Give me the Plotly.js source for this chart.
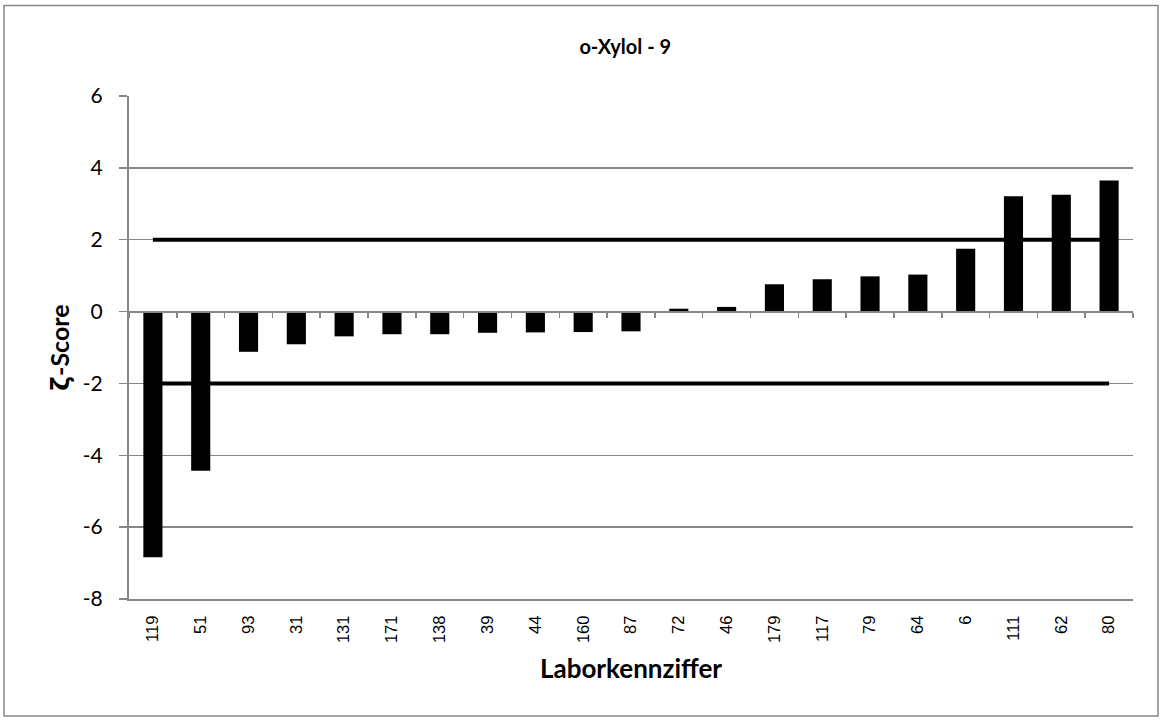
<!DOCTYPE html>
<html>
<head>
<meta charset="utf-8">
<script src="https://cdn.plot.ly/plotly-3.0.1.min.js"></script>
<style>html,body{margin:0;padding:0;background:#fff;}#chart{width:1160px;height:721px;}</style>
</head>
<body>
<div id="chart"></div>
<script>
const labs = ["119","51","93","31","131","171","138","39","44","160","87","72","46","179","117","79","64","6","111","62","80"];
const scores = [-6.84,-4.43,-1.12,-0.91,-0.69,-0.63,-0.63,-0.59,-0.58,-0.57,-0.55,0.08,0.13,0.76,0.90,0.98,1.03,1.75,3.21,3.25,3.65];
const upperLimit = 2;
const lowerLimit = -2;
const yTickVals = [-8, -6, -4, -2, 0, 2, 4, 6];
const yTickText = ["-8", "-6", "-4", "-2", "0", "2", "4", "6"];

const idx = labs.map((_, i) => i);
const bounds = [];
for (let i = 0; i <= labs.length; i++) bounds.push(i - 0.5);

const yMin = -8, yMax = 6;
const zeroPos = (0 - yMin) / (yMax - yMin);
const F = 'Lato, Open Sans, sans-serif';

const traces = [
  {type: 'bar', x: idx, y: scores, width: 0.4, marker: {color: '#000000'}, hoverinfo: 'x+y', xaxis: 'x', yaxis: 'y'},
  {type: 'scatter', mode: 'lines', x: [0, labs.length - 1], y: [upperLimit, upperLimit], line: {color: '#000', width: 4}, xaxis: 'x', yaxis: 'y'},
  {type: 'scatter', mode: 'lines', x: [0, labs.length - 1], y: [lowerLimit, lowerLimit], line: {color: '#000', width: 4}, xaxis: 'x', yaxis: 'y'},
  {type: 'scatter', mode: 'markers', x: [0], y: [0], marker: {opacity: 0}, hoverinfo: 'skip', xaxis: 'x2', yaxis: 'y'}
];

const layout = {
  width: 1160, height: 721,
  margin: {l: 129, r: 27, t: 96, b: 122},
  paper_bgcolor: '#fff', plot_bgcolor: '#fff',
  showlegend: false,
  font: {family: F, color: '#000'},
  title: {text: '<b>o-Xylol - 9</b>', font: {size: 20, family: F, color: '#000'}, x: 0.539, xanchor: 'center', y: 0.935, yanchor: 'middle'},
  xaxis: {
    range: [-0.5, labs.length - 0.5],
    tickmode: 'array', tickvals: idx, ticktext: labs,
    tickangle: -90, tickfont: {family: 'Liberation Sans, Arial, sans-serif', size: 16.5, color: '#000'},
    ticklabelstandoff: 8,
    showgrid: false, zeroline: false, showline: true, linecolor: '#868686', linewidth: 2,
    ticks: '', mirror: false,
    title: {text: '<b>Laborkennziffer</b>', font: {size: 26, family: F, color: '#000'}, standoff: 18}
  },
  xaxis2: {
    overlaying: 'x', anchor: 'free', position: zeroPos, side: 'bottom',
    range: [-0.5, labs.length - 0.5],
    tickmode: 'array', tickvals: bounds, showticklabels: false,
    ticks: 'outside', ticklen: 5, tickwidth: 1.5, tickcolor: '#868686',
    showgrid: false, zeroline: false, showline: true, linecolor: '#868686', linewidth: 2
  },
  yaxis: {
    range: [yMin, yMax], tickmode: 'array', tickvals: yTickVals, ticktext: yTickText,
    showgrid: true, gridcolor: '#868686', gridwidth: 1.5,
    zeroline: false, showline: true, linecolor: '#868686', linewidth: 2,
    ticks: 'outside', ticklen: 8, tickwidth: 1.5, tickcolor: '#868686',
    tickfont: {size: 21, family: F, color: '#000'},
    ticklabelstandoff: 12,
    title: {text: '<b><span style="font-family:DejaVu Sans">ζ</span>-Score</b>', font: {size: 25, family: F, color: '#000'}, standoff: 6}
  },
  shapes: [
    {type: 'rect', xref: 'paper', yref: 'paper', x0: (4 - 129) / 1004, x1: (1158 - 129) / 1004, y0: (599 - 716) / 503, y1: (599 - 5.5) / 503, line: {color: '#868686', width: 1.5}, fillcolor: 'rgba(0,0,0,0)', layer: 'below'}
  ]
};

Plotly.newPlot('chart', traces, layout, {displayModeBar: false, staticPlot: true});
</script>
</body>
</html>
